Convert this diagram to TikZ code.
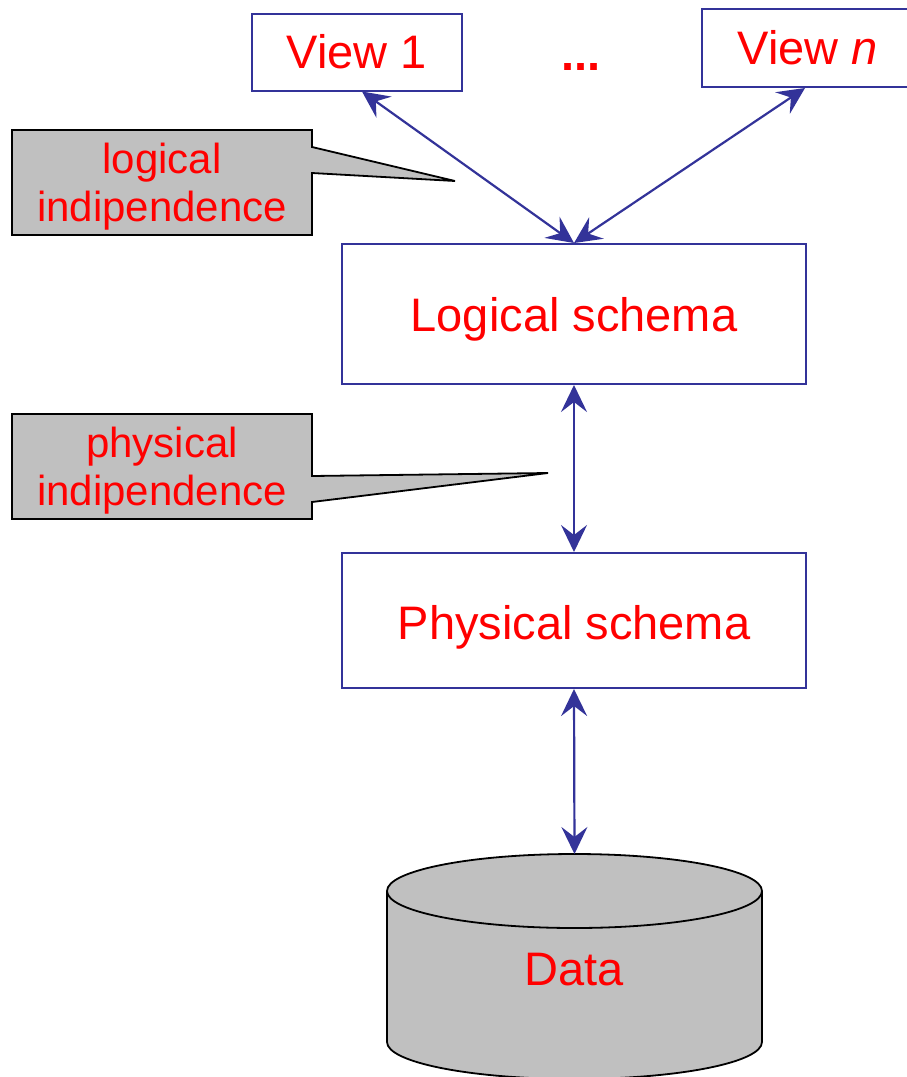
\documentclass[tikz,border=0pt]{standalone}
\usepackage{fontspec}
\setmainfont{Liberation Sans}
\usetikzlibrary{arrows.meta,calc}
\definecolor{linkblue}{RGB}{51,51,153}
\definecolor{labred}{RGB}{255,0,0}
\definecolor{boxgray}{RGB}{192,192,192}
\begin{document}
\begin{tikzpicture}[x=1pt,y=-1pt,
  box/.style={draw=linkblue, line width=2pt, fill=white, inner sep=0pt},
  bigtext/.style={text=labred, font=\fontsize{47}{52}\selectfont},
  notetext/.style={text=labred, font=\fontsize{42}{48}\selectfont, align=center, inner sep=0pt},
  link/.style={draw=linkblue, line width=2.2pt, {Stealth[length=27pt,width=26pt,inset=10pt]}-{Stealth[length=27pt,width=26pt,inset=10pt]}},
  note/.style={draw=black, line width=1.8pt, fill=boxgray, line join=miter}]

\useasboundingbox (0,0) rectangle (906,1077);

% views
\node[box, bigtext, minimum width=210pt, minimum height=77pt] (v1) at (357,52) {View 1};
\node[box, bigtext, minimum width=212pt, minimum height=78pt] (vn) at (808,48) {View \textit{n}};
\node[text=labred, font=\fontsize{47}{52}\selectfont\bfseries, anchor=base, inner sep=0pt] (dots) at (581,70) {...};

% schemas
\node[box, minimum width=464pt, minimum height=140pt] (ls) at (574,314) {};
\node[bigtext, inner sep=0pt] (lstext) at ([yshift=-5pt]ls.center) {Logical schema};
\node[box, minimum width=464pt, minimum height=135pt] (ps) at (574,620.5) {};
\node[bigtext, inner sep=0pt] (pstext) at ([yshift=-7pt]ps.center) {Physical schema};

% data store
\fill[boxgray] (387,891) -- (387,1042) arc[start angle=180,end angle=0,x radius=187.5,y radius=37] -- (762,891) -- cycle;
\draw[line width=1.8pt] (387,891) -- (387,1042) arc[start angle=180,end angle=0,x radius=187.5,y radius=37] -- (762,891);
\draw[line width=1.8pt, fill=boxgray] (574.5,891) ellipse[x radius=187.5, y radius=37];
\coordinate (dbtop) at (574.5,854);
\node[bigtext, inner sep=0pt] (data) at (574.5,970) {Data};

% callouts
\draw[note] (12,130) -- (312,130) -- (312,147) -- (455,181) -- (312,173) -- (312,235) -- (12,235) -- cycle;
\node[notetext] (lognote) at (162,187) {logical\\indipendence};
\draw[note] (12,414) -- (312,414) -- (312,476) -- (548,473) -- (312,502) -- (312,519) -- (12,519) -- cycle;
\node[notetext] (physnote) at (162,471) {physical\\indipendence};

% mappings
\draw[link] ([xshift=5pt]v1.south) -- (ls.north);
\draw[link] ([xshift=-3pt]vn.south) -- (ls.north);
\draw[link] (ls.south) -- (ps.north);
\draw[link] (ps.south) -- (dbtop);
\end{tikzpicture}
\end{document}
